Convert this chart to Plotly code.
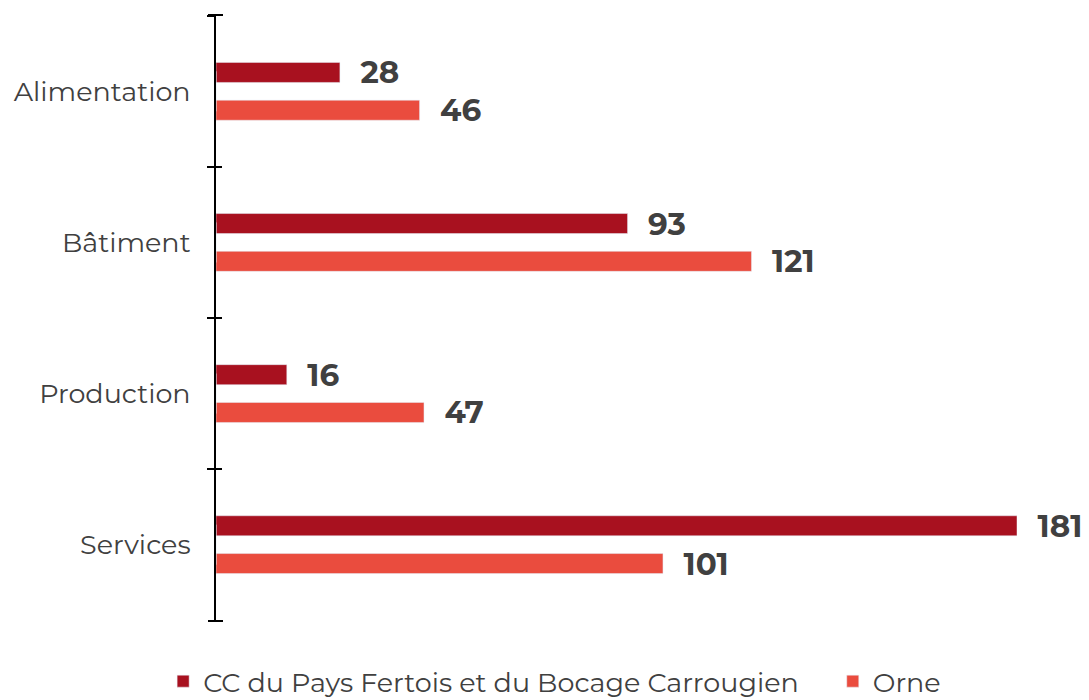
import plotly.graph_objects as go

categories = ["Alimentation", "Bâtiment", "Production", "Services"]
series_cc = [28, 93, 16, 181]
series_orne = [46, 121, 47, 101]
name_cc = "CC du Pays Fertois et du Bocage Carrougien"
name_orne = "Orne"

color_cc = "#A8111F"
color_orne = "#EA4C3E"
text_color = "#404040"
label_font = "Montserrat, Lato, 'Open Sans', sans-serif"

pad = "\u00a0\u00a0"
value_font = dict(family=label_font, size=31, color=text_color, weight="bold")

fig = go.Figure()
fig.add_trace(go.Bar(
    y=categories, x=series_cc, orientation="h", name=name_cc,
    marker_color=color_cc, legend="legend",
    text=[pad + str(v) for v in series_cc], textposition="outside",
    textfont=value_font, constraintext="none", cliponaxis=False,
))
fig.add_trace(go.Bar(
    y=categories, x=series_orne, orientation="h", name=name_orne,
    marker_color=color_orne, legend="legend2",
    text=[pad + str(v) for v in series_orne], textposition="outside",
    textfont=value_font, constraintext="none", cliponaxis=False,
))
# invisible trace to draw inner half of crossing ticks
fig.add_trace(go.Bar(y=categories, x=[0]*len(categories), orientation="h",
                     yaxis="y2", showlegend=False, hoverinfo="skip",
                     marker_color="rgba(0,0,0,0)"))

yr = [3.505, -0.505]
legend_common = dict(
    orientation="h", yanchor="middle", y=-0.1, xanchor="left",
    font=dict(family=label_font, size=27, color="#404040"),
    itemwidth=30, bgcolor="rgba(0,0,0,0)",
)
fig.update_layout(
    width=1089, height=700,
    margin=dict(l=216, r=72, t=15, b=79, autoexpand=False),
    plot_bgcolor="white", paper_bgcolor="white",
    barmode="group", bargap=0.5, bargroupgap=0.47,
    font=dict(family=label_font, size=27, color="#404040"),
    xaxis=dict(range=[0, 181], visible=False, fixedrange=True, automargin=False),
    yaxis=dict(
        type="category", categoryarray=categories, categoryorder="array",
        range=yr, tickson="boundaries", ticks="outside", ticklen=7,
        tickwidth=2, tickcolor="black", showline=True, linecolor="black",
        linewidth=2, showgrid=False, zeroline=False, ticklabelstandoff=18,
        automargin=False,
        tickfont=dict(family=label_font, size=27, color="#404040"),
    ),
    yaxis2=dict(
        type="category", categoryarray=categories, categoryorder="array",
        range=yr, overlaying="y", anchor="x", side="left",
        tickson="boundaries", ticks="inside", ticklen=6, tickwidth=2,
        tickcolor="black", showticklabels=False, showgrid=False, showline=False,
        zeroline=False, automargin=False,
    ),
    legend=dict(legend_common, x=-0.066),
    legend2=dict(legend_common, x=0.770),
    shapes=[
        # end ticks of the axis (decoration, in pixels around the axis)
        dict(type="line", xref="x domain", yref="y domain", xsizemode="pixel",
             xanchor=0, x0=-8, x1=7, y0=0, y1=0,
             line=dict(color="black", width=2)),
        dict(type="line", xref="x domain", yref="y domain", xsizemode="pixel",
             xanchor=0, x0=-8, x1=7, y0=1, y1=1,
             line=dict(color="black", width=2)),
    ],
)

fig.write_html("out.html", config={"displayModeBar": False},
               post_script="document.body.style.margin='0';")
